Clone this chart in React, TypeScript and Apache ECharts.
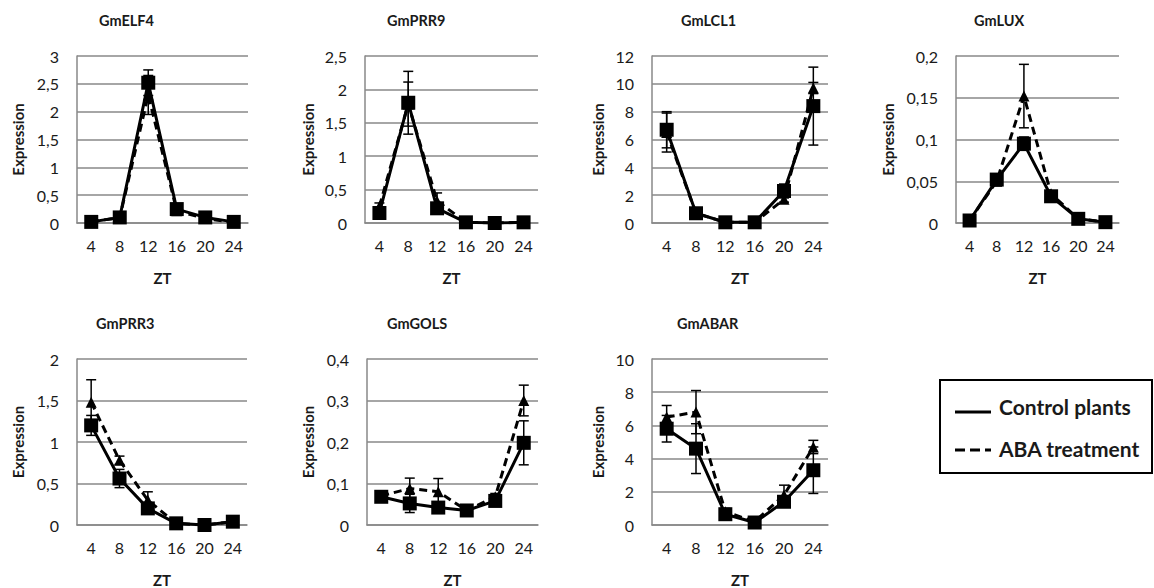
import React, { useEffect, useRef } from "react";
import * as echarts from "echarts";

const zt = ["4", "8", "12", "16", "20", "24"];
const geneNames = ["GmELF4", "GmPRR9", "GmLCL1", "GmLUX", "GmPRR3", "GmGOLS", "GmABAR"];
const yMax = [3, 2.5, 12, 0.2, 2, 0.4, 10];
const yStep = [0.5, 0.5, 2, 0.05, 0.5, 0.1, 2];

// Control plants
const elf4Control = [0.02, 0.1, 2.52, 0.25, 0.1, 0.02];
const elf4ControlErr = [0, 0, 0.23, 0.03, 0, 0];
const prr9Control = [0.15, 1.8, 0.22, 0.01, 0, 0.01];
const prr9ControlErr = [0.03, 0.47, 0.05, 0, 0, 0];
const lcl1Control = [6.7, 0.7, 0.05, 0.05, 2.3, 8.4];
const lcl1ControlErr = [1.3, 0.1, 0, 0, 0.5, 2.8];
const luxControl = [0.003, 0.052, 0.095, 0.032, 0.005, 0.001];
const luxControlErr = [0, 0.007, 0.008, 0.003, 0, 0];
const prr3Control = [1.2, 0.56, 0.2, 0.02, 0.0, 0.04];
const prr3ControlErr = [0.12, 0.11, 0.05, 0, 0, 0];
const golsControl = [0.068, 0.052, 0.042, 0.035, 0.058, 0.198];
const golsControlErr = [0.012, 0.022, 0.01, 0.003, 0.008, 0.053];
const abarControl = [5.8, 4.6, 0.65, 0.15, 1.4, 3.3];
const abarControlErr = [0.8, 1.5, 0.2, 0.05, 0.3, 1.4];

// ABA treatment
const elf4Aba = [0.02, 0.1, 2.3, 0.22, 0.08, 0.01];
const elf4AbaErr = [0, 0, 0.35, 0.03, 0, 0];
const prr9Aba = [0.25, 1.78, 0.33, 0.01, 0, 0.01];
const prr9AbaErr = [0.05, 0.33, 0.12, 0, 0, 0];
const lcl1Aba = [6.5, 0.7, 0.05, 0.05, 1.7, 9.7];
const lcl1AbaErr = [1.4, 0.1, 0, 0, 0.2, 0.4];
const luxAba = [0.003, 0.05, 0.152, 0.035, 0.005, 0.001];
const luxAbaErr = [0, 0.004, 0.038, 0.003, 0, 0];
const prr3Aba = [1.48, 0.78, 0.3, 0.02, 0.0, 0.04];
const prr3AbaErr = [0.27, 0.05, 0.1, 0, 0, 0];
const golsAba = [0.07, 0.088, 0.08, 0.035, 0.068, 0.3];
const golsAbaErr = [0.01, 0.025, 0.032, 0.003, 0.008, 0.037];
const abarAba = [6.5, 6.8, 0.8, 0.2, 1.8, 4.7];
const abarAbaErr = [0.7, 1.3, 0.2, 0.05, 0.6, 0.4];

const controlSets = [elf4Control, prr9Control, lcl1Control, luxControl, prr3Control, golsControl, abarControl];
const controlErrSets = [elf4ControlErr, prr9ControlErr, lcl1ControlErr, luxControlErr, prr3ControlErr, golsControlErr, abarControlErr];
const abaSets = [elf4Aba, prr9Aba, lcl1Aba, luxAba, prr3Aba, golsAba, abarAba];
const abaErrSets = [elf4AbaErr, prr9AbaErr, lcl1AbaErr, luxAbaErr, prr3AbaErr, golsAbaErr, abarAbaErr];

// layout (pixels)
const grids = [
  { left: 77, top: 56, width: 171, height: 167 },
  { left: 365, top: 56, width: 173, height: 167 },
  { left: 652, top: 56, width: 176, height: 167 },
  { left: 956, top: 56, width: 163, height: 167 },
  { left: 77, top: 359, width: 170, height: 167 },
  { left: 367, top: 359, width: 171, height: 167 },
  { left: 652, top: 359, width: 176, height: 167 },
];
const titlePos = [
  { left: 94, top: 8 },
  { left: 382, top: 8 },
  { left: 676, top: 8 },
  { left: 969, top: 8 },
  { left: 91, top: 311 },
  { left: 382, top: 311 },
  { left: 672, top: 311 },
];
const nameGaps = [52, 50, 47, 61, 52, 52, 47];

const FONT = "Lato, 'Open Sans', sans-serif";

function fmt(v: number) {
  return String(+v.toFixed(4)).replace(".", ",");
}

function errorSeries(i: number, vals: number[], errs: number[], z: number) {
  return {
    type: "custom",
    xAxisIndex: i,
    yAxisIndex: i,
    z,
    silent: true,
    data: vals.map((v, k) => [k, v, errs[k]]),
    renderItem: (params: any, api: any) => {
      const x = api.value(0);
      const v = api.value(1);
      const e = api.value(2);
      if (!e) return { type: "group", children: [] };
      const top = api.coord([x, v + e]);
      const bot = api.coord([x, v - e]);
      const hw = 5;
      const style = { stroke: "#000", lineWidth: 1.5 };
      return {
        type: "group",
        children: [
          { type: "line", shape: { x1: top[0], y1: top[1], x2: bot[0], y2: bot[1] }, style },
          { type: "line", shape: { x1: top[0] - hw, y1: top[1], x2: top[0] + hw, y2: top[1] }, style },
          { type: "line", shape: { x1: bot[0] - hw, y1: bot[1], x2: bot[0] + hw, y2: bot[1] }, style },
        ],
      };
    },
  };
}

export default function App() {
  const ref = useRef<HTMLDivElement>(null);
  useEffect(() => {
    if (!ref.current) return;
    const chart = echarts.init(ref.current, null, { renderer: "svg" });
    const series: any[] = [];
    geneNames.forEach((_, i) => {
      series.push(errorSeries(i, abaSets[i], abaErrSets[i], 2));
      series.push({
        type: "line",
        name: "ABA treatment",
        xAxisIndex: i,
        yAxisIndex: i,
        data: abaSets[i],
        symbol: "triangle",
        symbolSize: 11,
        z: 3,
        itemStyle: { color: "#000" },
        lineStyle: { color: "#000", width: 3, type: [8, 5] },
      });
      series.push(errorSeries(i, controlSets[i], controlErrSets[i], 4));
      series.push({
        type: "line",
        name: "Control plants",
        xAxisIndex: i,
        yAxisIndex: i,
        data: controlSets[i],
        symbol: "rect",
        symbolSize: 14,
        z: 5,
        itemStyle: { color: "#000" },
        lineStyle: { color: "#000", width: 3 },
      });
    });

    const option: any = {
      animation: false,
      backgroundColor: "#fff",
      title: geneNames.map((t, i) => ({
        text: t,
        left: titlePos[i].left,
        top: titlePos[i].top,
        textStyle: { fontFamily: FONT, fontSize: 14.5, fontWeight: "bold", color: "#1a1a1a" },
      })),
      grid: grids,
      xAxis: grids.map((_, i) => ({
        type: "category",
        gridIndex: i,
        data: zt,
        boundaryGap: true,
        name: "ZT",
        nameLocation: "middle",
        nameGap: 47,
        nameTextStyle: { fontFamily: FONT, fontSize: 15, fontWeight: "bold", color: "#1a1a1a" },
        axisLine: { show: true, lineStyle: { color: "#888", width: 1.5 } },
        axisTick: { show: false },
        axisLabel: { fontFamily: FONT, fontSize: 16, color: "#1a1a1a", margin: 14, interval: 0 },
        splitLine: { show: false },
      })),
      yAxis: grids.map((_, i) => ({
        type: "value",
        gridIndex: i,
        min: 0,
        max: yMax[i],
        interval: yStep[i],
        name: "Expression",
        nameLocation: "middle",
        nameGap: nameGaps[i],
        nameTextStyle: { fontFamily: FONT, fontSize: 15, fontWeight: "bold", color: "#1a1a1a" },
        axisLine: { show: true, lineStyle: { color: "#888", width: 1.5 } },
        axisTick: { show: false },
        axisLabel: { fontFamily: FONT, fontSize: 16, color: "#1a1a1a", margin: 18, formatter: fmt },
        splitLine: { show: true, lineStyle: { color: "#888", width: 1.5 } },
      })),
      series,
      graphic: [
        {
          type: "rect",
          shape: { x: 940, y: 380, width: 212, height: 93 },
          style: { fill: "#fff", stroke: "#000", lineWidth: 2 },
        },
        {
          type: "line",
          shape: { x1: 955, y1: 412, x2: 991, y2: 412 },
          style: { stroke: "#000", lineWidth: 3 },
        },
        {
          type: "line",
          shape: { x1: 955, y1: 450, x2: 991, y2: 450 },
          style: { stroke: "#000", lineWidth: 3, lineDash: [10, 5] },
        },
        {
          type: "text",
          x: 999,
          y: 406,
          style: { text: "Control plants", fontFamily: FONT, fontSize: 21, fontWeight: "bold", fill: "#1a1a1a", verticalAlign: "middle" },
        },
        {
          type: "text",
          x: 999,
          y: 448,
          style: { text: "ABA treatment", fontFamily: FONT, fontSize: 21, fontWeight: "bold", fill: "#1a1a1a", verticalAlign: "middle" },
        },
      ],
    };
    chart.setOption(option);
    return () => chart.dispose();
  }, []);
  return (
    <div
      ref={ref}
      style={{ position: "fixed", left: 0, top: 0, width: 1154, height: 588, background: "#fff" }}
    />
  );
}
